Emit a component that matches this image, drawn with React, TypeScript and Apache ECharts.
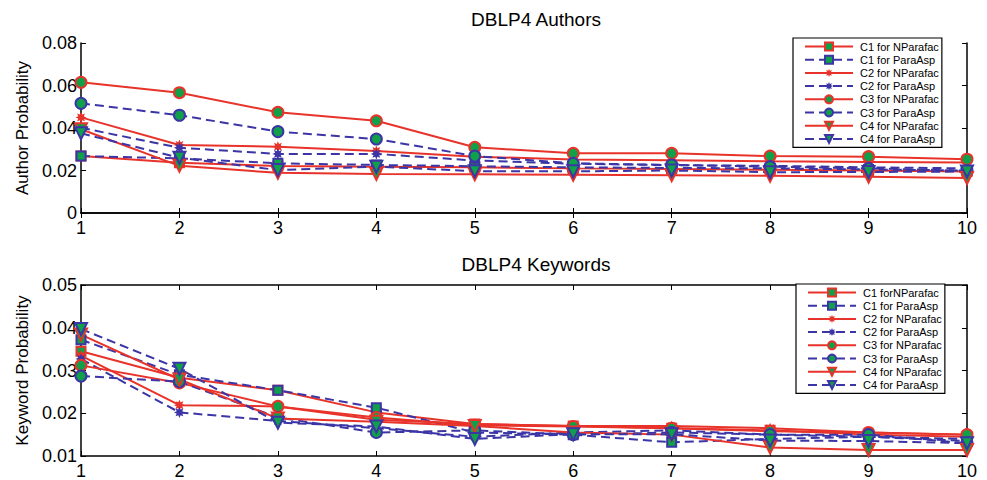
import React, { useEffect, useRef } from "react";
import * as echarts from "echarts";

const xs = [1, 2, 3, 4, 5, 6, 7, 8, 9, 10];

// Top panel: DBLP4 Authors
const a_c1_np = [0.0268, 0.0237, 0.0221, 0.0218, 0.0215, 0.021, 0.0207, 0.0203, 0.0200, 0.0195];
const a_c1_pa = [0.0268, 0.0257, 0.0234, 0.0226, 0.022, 0.0215, 0.0212, 0.021, 0.0205, 0.0200];
const a_c2_np = [0.045, 0.032, 0.0312, 0.0292, 0.0265, 0.0252, 0.0248, 0.0243, 0.024, 0.0238];
const a_c2_pa = [0.0401, 0.0307, 0.0278, 0.0278, 0.0247, 0.0232, 0.0225, 0.0222, 0.0215, 0.021];
const a_c3_np = [0.0615, 0.0566, 0.0474, 0.0434, 0.0309, 0.0281, 0.0281, 0.0268, 0.0265, 0.0253];
const a_c3_pa = [0.0516, 0.046, 0.0383, 0.0348, 0.0268, 0.0234, 0.0226, 0.0218, 0.021, 0.0199];
const a_c4_np = [0.0394, 0.0222, 0.0189, 0.0184, 0.0182, 0.018, 0.0178, 0.0175, 0.0171, 0.0165];
const a_c4_pa = [0.0375, 0.026, 0.0202, 0.0218, 0.0197, 0.0196, 0.02, 0.0192, 0.0193, 0.0195];

// Bottom panel: DBLP4 Keywords
const k_c1_np = [0.0345, 0.0283, 0.0254, 0.0202, 0.0175, 0.017, 0.0165, 0.016, 0.015, 0.0145];
const k_c1_pa = [0.0372, 0.029, 0.0254, 0.0213, 0.0155, 0.015, 0.0132, 0.014, 0.0145, 0.0135];
const k_c2_np = [0.0335, 0.0219, 0.0216, 0.0185, 0.0175, 0.017, 0.017, 0.0165, 0.0155, 0.015];
const k_c2_pa = [0.0327, 0.0202, 0.0182, 0.0165, 0.0145, 0.0155, 0.016, 0.015, 0.0145, 0.014];
const k_c3_np = [0.0312, 0.0271, 0.0216, 0.019, 0.0172, 0.0169, 0.0165, 0.0158, 0.0155, 0.015];
const k_c3_pa = [0.0287, 0.0274, 0.019, 0.0155, 0.016, 0.015, 0.0155, 0.015, 0.015, 0.013];
const k_c4_np = [0.0384, 0.0279, 0.0188, 0.018, 0.017, 0.0155, 0.015, 0.012, 0.0114, 0.0114];
const k_c4_pa = [0.0397, 0.0304, 0.0178, 0.0169, 0.014, 0.0151, 0.0151, 0.0136, 0.0135, 0.013];

const topNames = [
  "C1 for NParafac", "C1 for ParaAsp", "C2 for NParafac", "C2 for ParaAsp",
  "C3 for NParafac", "C3 for ParaAsp", "C4 for NParafac", "C4 for ParaAsp",
];
const botNames = [
  "C1 forNParafac", "C1 for ParaAsp", "C2 for NParafac", "C2 for ParaAsp",
  "C3 for NParafac", "C3 for ParaAsp", "C4 for NParafac", "C4 for ParaAsp",
];
const topData = [a_c1_np, a_c1_pa, a_c2_np, a_c2_pa, a_c3_np, a_c3_pa, a_c4_np, a_c4_pa];
const botData = [k_c1_np, k_c1_pa, k_c2_np, k_c2_pa, k_c3_np, k_c3_pa, k_c4_np, k_c4_pa];

const RED = "#e8332a";
const BLUE = "#3b35a5";
const GREEN = "#10a04a";

function starPath(points: number, inner: number) {
  const pts: string[] = [];
  for (let i = 0; i < points * 2; i++) {
    const r = i % 2 === 0 ? 1 : inner;
    const a = (Math.PI * i) / points - Math.PI / 2;
    pts.push(`${(r * Math.cos(a)).toFixed(3)} ${(r * Math.sin(a)).toFixed(3)}`);
  }
  return "path://M" + pts.join(" L") + " Z";
}
const STAR = starPath(8, 0.55);

const symbols = ["rect", "rect", STAR, STAR, "circle", "circle", "triangle", "triangle"];
const sizes = [9, 9, 11, 11, 11, 11, 12, 12];

const FONT = "Liberation Sans, Arial, Helvetica, sans-serif";

function buildSeries(names: string[], data: number[][], idx: number) {
  return names.map((name, i) => {
    const np = i % 2 === 0;
    const color = np ? RED : BLUE;
    const isStar = symbols[i] === STAR;
    return {
      type: "line",
      name,
      xAxisIndex: idx * 2,
      yAxisIndex: idx * 2,
      data: xs.map((x, j) => [x, data[i][j]]),
      symbol: symbols[i],
      symbolSize: sizes[i],
      symbolRotate: symbols[i] === "triangle" ? 180 : 0,
      showAllSymbol: true,
      lineStyle: { color, width: 2, type: np ? "solid" : [9, 5] },
      itemStyle: {
        color: isStar ? color : GREEN,
        borderColor: color,
        borderWidth: isStar ? 0 : 2,
      },
      emphasis: { disabled: true },
    };
  });
}

function axisCommon(gridIndex: number) {
  return {
    gridIndex,
    axisLine: { show: true, lineStyle: { color: "#000", width: 1.5 } },
    axisTick: { show: true, inside: true, length: 5, lineStyle: { color: "#000", width: 1 } },
    splitLine: { show: false },
  };
}

export default function App() {
  const ref = useRef<HTMLDivElement>(null);
  useEffect(() => {
    if (!ref.current) return;
    const chart = echarts.init(ref.current, undefined, { renderer: "svg" });
    const xAxes: any[] = [];
    const yAxes: any[] = [];
    const yCfg = [
      { min: 0, max: 0.08, interval: 0.02, name: "Author Probability", fmt: (v: number) => (v === 0 ? "0" : v.toFixed(2)) },
      { min: 0.01, max: 0.05, interval: 0.01, name: "Keyword Probability", fmt: (v: number) => v.toFixed(2) },
    ];
    [0, 1].forEach((g) => {
      xAxes.push({
        ...axisCommon(g), type: "value", min: 1, max: 10, interval: 1, position: "bottom",
        axisLabel: { show: true, color: "#000", fontSize: 18, fontFamily: FONT, margin: 6 },
      });
      xAxes.push({
        ...axisCommon(g), type: "value", min: 1, max: 10, interval: 1, position: "top",
        axisLabel: { show: false },
      });
      yAxes.push({
        ...axisCommon(g), type: "value", min: yCfg[g].min, max: yCfg[g].max, interval: yCfg[g].interval,
        position: "left", name: yCfg[g].name, nameLocation: "middle", nameGap: 50,
        nameTextStyle: { color: "#000", fontSize: 17, fontFamily: FONT },
        axisLabel: { show: true, color: "#000", fontSize: 18, fontFamily: FONT, margin: 4, formatter: yCfg[g].fmt },
      });
      yAxes.push({
        ...axisCommon(g), type: "value", min: yCfg[g].min, max: yCfg[g].max, interval: yCfg[g].interval,
        position: "right", axisLabel: { show: false },
      });
    });
    const legendCommon = {
      orient: "vertical",
      backgroundColor: "#fff",
      borderColor: "#000",
      borderWidth: 1.2,
      borderRadius: 0,
      padding: [2, 3, 2, 11],
      itemWidth: 48,
      itemHeight: 10,
      itemGap: 0.2,
      textStyle: {
        color: "#000", fontSize: 11, lineHeight: 13,
        fontFamily: "Liberation Sans Narrow, Arial Narrow, Liberation Sans, sans-serif",
        padding: [0, 0, 0, 2],
      },
      selectedMode: false,
    };
    chart.setOption({
      animation: false,
      backgroundColor: "#fff",
      title: [
        { text: "DBLP4 Authors", left: 531, top: 5, textAlign: "center", textStyle: { color: "#000", fontSize: 19, fontWeight: "normal", fontFamily: FONT } },
        { text: "DBLP4 Keywords", left: 531, top: 250, textAlign: "center", textStyle: { color: "#000", fontSize: 19, fontWeight: "normal", fontFamily: FONT } },
      ],
      grid: [
        { left: 81, right: 20, top: 43, bottom: 267 },
        { left: 81, right: 20, top: 285, bottom: 23 },
      ],
      xAxis: xAxes,
      yAxis: yAxes,
      legend: [
        { ...legendCommon, left: 793, top: 38, data: topNames },
        { ...legendCommon, left: 796, top: 284, data: botNames },
      ],
      series: [...buildSeries(topNames, topData, 0), ...buildSeries(botNames, botData, 1)],
    });
    return () => chart.dispose();
  }, []);
  return (
    <div
      ref={ref}
      style={{ position: "fixed", left: 0, top: 0, width: 987, height: 480, background: "#fff" }}
    />
  );
}
